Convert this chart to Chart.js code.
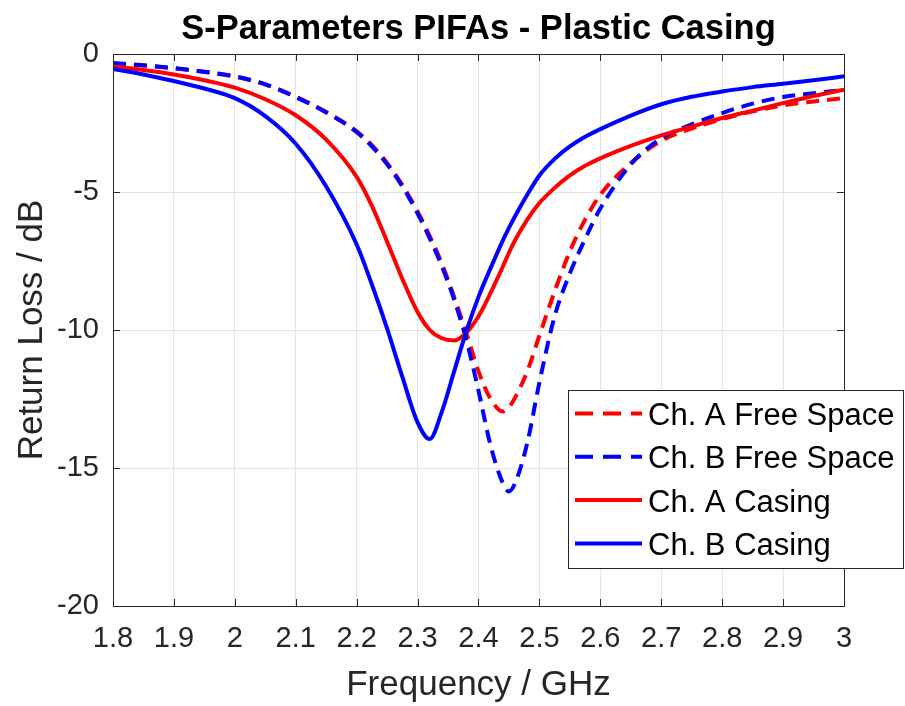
<!DOCTYPE html>
<html>
<head>
<meta charset="utf-8">
<title>S-Parameters PIFAs - Plastic Casing</title>
<script src="https://cdn.jsdelivr.net/npm/chart.js@4.4.0/dist/chart.umd.min.js"></script>
<style>
  html, body { margin: 0; padding: 0; background: #fff; }
  #chart-sparams { display: block; }
</style>
</head>
<body>
<canvas id="chart-sparams" width="905" height="706"></canvas>
<script>
// Frequency points (GHz)
const freqGHz = [1.8, 1.85, 1.9, 1.95, 2.0, 2.05, 2.1, 2.15, 2.2, 2.225, 2.25, 2.275, 2.3, 2.32, 2.34, 2.36, 2.38, 2.4,
  2.42, 2.44, 2.45, 2.46, 2.48, 2.5, 2.525, 2.55, 2.575, 2.6, 2.65, 2.7, 2.75, 2.8, 2.85, 2.9, 2.95, 3.0];

// Return loss in dB for each trace
const chAFreeSpace = [-0.35, -0.42, -0.52, -0.65, -0.82, -1.1, -1.55, -2.1, -2.8, -3.3, -3.95, -4.75, -5.7, -6.6, -7.6, -8.8, -10.1, -11.5,
  -12.5, -12.95, -12.8, -12.45, -11.5, -10.2, -8.6, -7.15, -6.0, -5.1, -3.95, -3.15, -2.7, -2.36, -2.08, -1.86, -1.72, -1.6];
const chBFreeSpace = [-0.33, -0.41, -0.51, -0.64, -0.81, -1.1, -1.56, -2.12, -2.83, -3.35, -4.0, -4.8, -5.78, -6.68, -7.7, -8.9, -10.35, -12.2,
  -14.2, -15.55, -15.85, -15.55, -14.1, -11.9, -9.5, -7.95, -6.7, -5.6, -4.0, -3.05, -2.55, -2.14, -1.8, -1.56, -1.42, -1.3];
const chACasing = [-0.45, -0.58, -0.74, -0.95, -1.22, -1.64, -2.22, -3.1, -4.45, -5.5, -6.8, -8.15, -9.35, -10.0, -10.3, -10.38, -10.1, -9.5,
  -8.65, -7.7, -7.2, -6.75, -6.0, -5.4, -4.85, -4.4, -4.05, -3.78, -3.33, -2.95, -2.63, -2.32, -2.05, -1.78, -1.52, -1.29];
const chBCasing = [-0.54, -0.74, -0.98, -1.25, -1.6, -2.25, -3.25, -4.8, -6.9, -8.35, -9.95, -11.7, -13.35, -13.95, -12.95, -11.5, -10.05, -8.8,
  -7.75, -6.75, -6.3, -5.88, -5.1, -4.4, -3.8, -3.35, -3.0, -2.72, -2.23, -1.82, -1.55, -1.36, -1.2, -1.08, -0.95, -0.81];

const xTicks = [1.8, 1.9, 2.0, 2.1, 2.2, 2.3, 2.4, 2.5, 2.6, 2.7, 2.8, 2.9, 3.0];
const yTicks = [0, -5, -10, -15, -20];

const FONT = "'Liberation Sans', Arial, Helvetica, sans-serif";
const TEXT = '#262626';

function toPoints(values) {
  return freqGHz.map((f, i) => ({ x: f, y: values[i] }));
}

// box + inward tick marks + legend, MATLAB style
const matlabFrame = {
  id: 'matlabFrame',
  afterDatasetsDraw(chart) {
    const { ctx, chartArea: a, scales } = chart;
    ctx.save();
    ctx.strokeStyle = TEXT;
    ctx.lineWidth = 1;
    ctx.beginPath();
    xTicks.forEach(v => {
      const px = Math.round(scales.x.getPixelForValue(v)) + 0.5;
      ctx.moveTo(px, a.bottom); ctx.lineTo(px, a.bottom - 7);
      ctx.moveTo(px, a.top); ctx.lineTo(px, a.top + 7);
    });
    yTicks.forEach(v => {
      const py = Math.round(scales.y.getPixelForValue(v)) + 0.5;
      ctx.moveTo(a.left, py); ctx.lineTo(a.left + 7, py);
      ctx.moveTo(a.right, py); ctx.lineTo(a.right - 7, py);
    });
    ctx.stroke();
    ctx.strokeRect(Math.round(a.left) + 0.5, Math.round(a.top) + 0.5, Math.round(a.width), Math.round(a.height));

    // legend
    const box = { x: 568, y: 390, w: 335, h: 178 };
    ctx.fillStyle = '#fff';
    ctx.fillRect(box.x, box.y, box.w, box.h);
    ctx.strokeStyle = TEXT;
    ctx.lineWidth = 1;
    ctx.strokeRect(box.x + 0.5, box.y + 0.5, box.w, box.h);
    ctx.font = '31px ' + FONT;
    ctx.textBaseline = 'middle';
    ctx.textAlign = 'left';
    chart.data.datasets.forEach((ds, i) => {
      const ly = 413.5 + i * 43.3;
      ctx.beginPath();
      ctx.strokeStyle = ds.borderColor;
      ctx.lineWidth = 4;
      ctx.setLineDash(ds.borderDash.length ? [18, 10] : []);
      ctx.moveTo(575, ly);
      ctx.lineTo(642, ly);
      ctx.stroke();
      ctx.setLineDash([]);
      ctx.fillStyle = '#000';
      ctx.fillText(ds.label, 648, ly + 3);
    });
    ctx.restore();
  }
};

const ctxS = document.getElementById('chart-sparams');
new Chart(ctxS, {
  type: 'line',
  data: {
    datasets: [
      { label: 'Ch. A Free Space', data: toPoints(chAFreeSpace), borderColor: '#ff0000', borderDash: [13, 8], order: 4 },
      { label: 'Ch. B Free Space', data: toPoints(chBFreeSpace), borderColor: '#0000ff', borderDash: [13, 8], order: 3 },
      { label: 'Ch. A Casing', data: toPoints(chACasing), borderColor: '#ff0000', borderDash: [], order: 2 },
      { label: 'Ch. B Casing', data: toPoints(chBCasing), borderColor: '#0000ff', borderDash: [], order: 1 }
    ]
  },
  options: {
    responsive: false,
    animation: false,
    layout: { padding: { left: 0, right: 61, top: 0, bottom: 0 } },
    elements: {
      line: { borderWidth: 4, cubicInterpolationMode: 'monotone', fill: false },
      point: { radius: 0, hoverRadius: 0 }
    },
    plugins: {
      legend: { display: false },
      tooltip: { enabled: false },
      title: {
        display: true,
        fullSize: false,
        text: 'S-Parameters PIFAs - Plastic Casing',
        color: '#000',
        font: { family: FONT, size: 34.5, weight: 'bold' },
        padding: { top: 9, bottom: 3.6 }
      }
    },
    scales: {
      x: {
        type: 'linear',
        min: 1.8,
        max: 3.0,
        afterFit: s => { s.height = 100; },
        afterBuildTicks: s => { s.ticks = xTicks.map(v => ({ value: v })); },
        grid: { color: '#e4e4e4', lineWidth: 1, drawTicks: false },
        border: { display: false },
        ticks: {
          autoSkip: false,
          maxRotation: 0,
          padding: 16,
          color: TEXT,
          font: { family: FONT, size: 29 },
          callback: v => String(+v.toFixed(1))
        },
        title: {
          display: true,
          text: 'Frequency / GHz',
          color: TEXT,
          font: { family: FONT, size: 35 },
          padding: { top: 0, bottom: 0 }
        }
      },
      y: {
        min: -20,
        max: 0,
        afterFit: s => { s.width = 113; },
        afterBuildTicks: s => { s.ticks = yTicks.map(v => ({ value: v })); },
        grid: { color: '#e4e4e4', lineWidth: 1, drawTicks: false },
        border: { display: false },
        ticks: {
          padding: 14,
          color: TEXT,
          font: { family: FONT, size: 29 },
          callback: v => String(v)
        },
        title: {
          display: true,
          text: 'Return Loss / dB',
          color: TEXT,
          font: { family: FONT, size: 35 },
          padding: { top: 11, bottom: 0 }
        }
      }
    }
  },
  plugins: [matlabFrame]
});
</script>
</body>
</html>
